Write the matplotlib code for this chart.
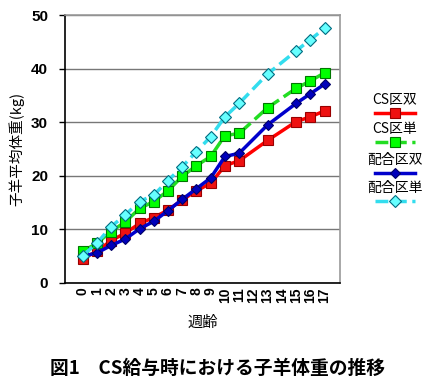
import matplotlib.pyplot as plt
from matplotlib.lines import Line2D

plt.rcParams['font.family'] = ['Liberation Sans', 'Noto Sans CJK JP', 'DejaVu Sans']
JP = ['Noto Sans CJK JP', 'DejaVu Sans']

# weeks (12 and 14 have no measurement)
weeks = [0, 1, 2, 3, 4, 5, 6, 7, 8, 9, 10, 11, 13, 15, 16, 17]
week_labels = [str(i) for i in range(18)]

cs_twin = [4.5, 5.9, 7.9, 9.3, 11.1, 12.2, 13.6, 15.5, 17.2, 18.6, 21.9, 22.8, 26.6, 30.1, 31.0, 32.1]
cs_single = [5.9, 7.4, 9.6, 11.4, 13.9, 15.2, 17.2, 19.9, 21.9, 23.6, 27.5, 27.9, 32.7, 36.3, 37.7, 39.2]
mix_twin = [5.0, 5.6, 7.0, 8.2, 10.1, 11.5, 13.5, 15.6, 17.6, 19.6, 23.6, 24.2, 29.5, 33.5, 35.3, 37.1]
mix_single = [5.1, 7.4, 10.5, 12.7, 15.2, 16.4, 19.1, 21.7, 24.5, 27.3, 31.0, 33.5, 39.0, 43.3, 45.4, 47.5]

names = ['CS区双', 'CS区単', '配合区双', '配合区単']
styles = [
    dict(color='#FF0000', ls='-', marker='s', ms=7, mfc='#EE1111', mec='#990000'),
    dict(color='#22DD22', ls='--', marker='s', ms=7, mfc='#00FF00', mec='#007700'),
    dict(color='#0000CC', ls='-', marker='D', ms=5.5, mfc='#0000BB', mec='#000066'),
    dict(color='#33DDEE', ls='--', marker='D', ms=6, mfc='#66FFFF', mec='#006B80'),
]

fig = plt.figure(figsize=(4.35, 3.85), dpi=100)
ax = fig.add_axes([0.149, 0.265, 0.633, 0.696])

for ys, st in zip([cs_twin, cs_single, mix_twin, mix_single], styles):
    ax.plot(weeks, ys, lw=2.5, mew=0.8, **st)

ax.set_xlim(-1.25, 18.1)
ax.set_ylim(0, 50)
ax.set_yticks([0, 10, 20, 30, 40, 50])
ax.set_xticks(range(18))
ax.set_xticklabels(week_labels, rotation=90, fontsize=10, fontweight='bold')
ax.tick_params(axis='x', length=0, pad=3)
ax.tick_params(axis='y', labelsize=11, length=4, width=1, pad=8)
for t in ax.get_yticklabels():
    t.set_fontweight('bold')
ax.grid(axis='y', color='#777777', lw=1)
ax.set_axisbelow(True)
ax.spines['left'].set_color('black')
ax.spines['bottom'].set_color('black')
ax.spines['top'].set_color('#999999')
ax.spines['right'].set_color('#999999')
for s in ax.spines.values():
    s.set_linewidth(1.2)

ax.set_ylabel('子羊平均体重(kg)', family=JP, fontsize=10.5, labelpad=5)
ax.set_xlabel('週齢', family=JP, fontsize=11, labelpad=8)

# legend: label text above each sample line
text_y = [100, 129, 160, 188]
for name, st, ty in zip(names, styles, text_y):
    fy = 1 - ty / 385
    fig.text(395 / 435, fy, name, family=JP, fontsize=10, ha='center', va='center')
    ly = 1 - (ty + 13) / 385
    fig.add_artist(Line2D([375 / 435, 415 / 435], [ly, ly], transform=fig.transFigure,
                          lw=2.5, **{k: v for k, v in st.items()}, markevery=[]))
    fig.add_artist(Line2D([395 / 435], [ly], transform=fig.transFigure, ls='none',
                          marker=st['marker'], ms=st['ms'], mfc=st['mfc'], mec=st['mec'], mew=0.8))

fig.text(218 / 435, 1 - 368 / 385, '図1　CS給与時における子羊体重の推移', family=JP,
         fontsize=13.5, fontweight='bold', ha='center', va='center')

fig.savefig('out.png', dpi=100)
